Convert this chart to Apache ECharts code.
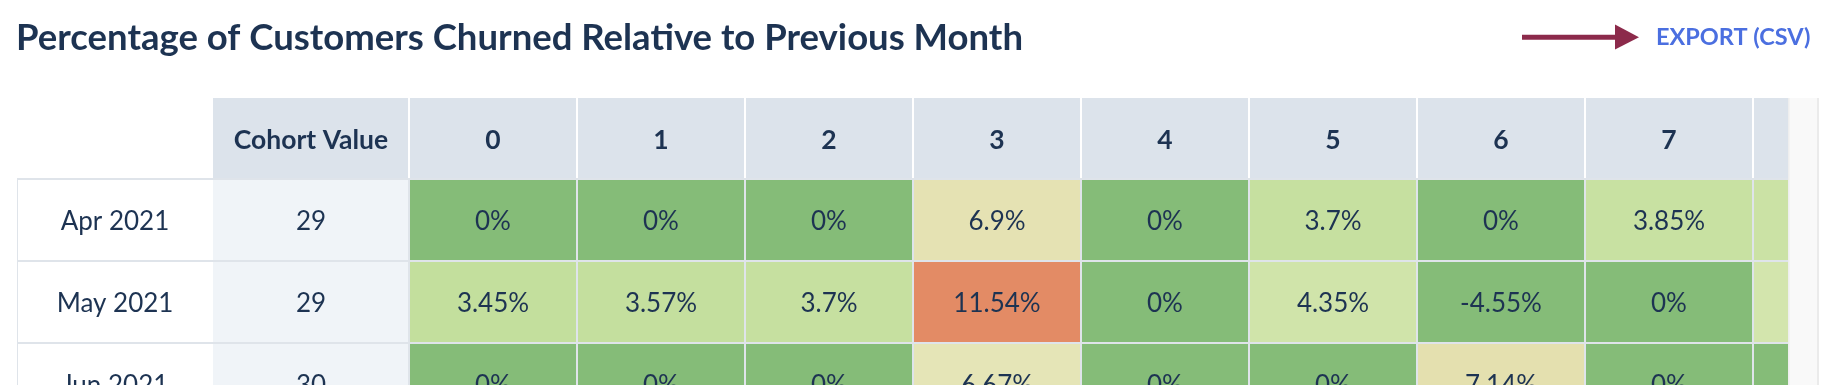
<!DOCTYPE html>
<html>
<head>
<meta charset="utf-8">
<style>
html,body{margin:0;padding:0;background:#fff;}
#chart{width:1834px;height:385px;}
</style>
<script src="https://cdn.jsdelivr.net/npm/echarts@6/dist/echarts.min.js"></script>
</head>
<body>
<div id="chart"></div>
<script>
// ---- data ----
const titleText = 'Percentage of Customers Churned Relative to Previous Month';
const exportText = 'EXPORT (CSV)';
const cohortHeader = 'Cohort Value';
const months = ['Apr 2021', 'May 2021', 'Jun 2021'];
const cohortValues = [29, 29, 30];
const periods = ['0', '1', '2', '3', '4', '5', '6', '7', '8'];
const churnApr2021 = [0, 0, 0, 6.9, 0, 3.7, 0, 3.85, 4.0];
const churnMay2021 = [3.45, 3.57, 3.7, 11.54, 0, 4.35, -4.55, 0, 4.55];
const churnJun2021 = [0, 0, 0, 6.67, 0, 0, 7.14, 0, 0];
const churnRows = [churnApr2021, churnMay2021, churnJun2021];

// ---- style / layout ----
const FONT = 'Lato';
const TEXT = '#1d3352';
const LINE = '#dfe4ea';
const HEAD_BG = '#dce3eb';
const COHORT_BG = '#f0f4f8';
const COL_W = 168, ROW_H = 82;
const GRID_L = 17, GRID_R = 1788, GRID_T = 97, H = 385;
const DATA_L = 409;
const xMin = -0.5 - (DATA_L - GRID_L) / COL_W;
const xMax = xMin + (GRID_R - GRID_L) / COL_W;
const yMin = -1.5;
const yMax = yMin + (H - GRID_T) / ROW_H;
const labelL = xMin;
const cohortL = -0.5 - 196 / COL_W;
const cohortR = -0.5;

const cellData = [];
churnRows.forEach((row, r) => row.forEach((v, c) => cellData.push([c, r, v])));
const rowHeadData = months.map((m, i) => [-1, i]);
const headData = periods.map((p, i) => [i, -1]);

const chart = echarts.init(document.getElementById('chart'));

function txt(text, x, y, size, weight) {
  return {type: 'text', style: {text: text, x: x, y: y, align: 'center', verticalAlign: 'middle',
    fontFamily: FONT, fontSize: size, fontWeight: weight, fill: TEXT}};
}

chart.setOption({
  animation: false,
  title: {text: titleText, left: 11, top: 15,
    textStyle: {fontFamily: FONT, fontWeight: 'bold', fontSize: 36.5, color: TEXT}},
  grid: {left: GRID_L, right: 1834 - GRID_R, top: GRID_T, bottom: 0},
  xAxis: {type: 'value', min: xMin, max: xMax, show: false},
  yAxis: {type: 'value', min: yMin, max: yMax, inverse: true, show: false},
  visualMap: {type: 'continuous', show: false, seriesIndex: 2, dimension: 2, min: -6, max: 12,
    inRange: {color: ['#85bc78', '#85bc78', '#85bc78', '#85bc78', '#85bc78', '#a0cc86', '#bcdc96',
      '#d2e5ac', '#e6ecc4', '#e4dca8', '#e4bb8f', '#e39c74', '#e3835f']}},
  graphic: [
    {type: 'line', z: 100, shape: {x1: 1522, y1: 37.3, x2: 1617, y2: 37.3}, style: {stroke: '#8c2a4b', lineWidth: 5}},
    {type: 'polygon', z: 100, shape: {points: [[1615, 24.5], [1639, 37.3], [1615, 49.5]]}, style: {fill: '#8c2a4b'}},
    {type: 'text', z: 100, style: {text: exportText, x: 1656, y: 37, align: 'left', verticalAlign: 'middle',
      fontFamily: FONT, fontWeight: 'bold', fontSize: 23.5, fill: '#4b6fe0'}},
    {type: 'rect', z: 100, shape: {x: 1788, y: 98, width: 29, height: 290}, style: {fill: '#f9f9f9'}},
    {type: 'rect', z: 100, shape: {x: 1817, y: 98, width: 2, height: 290}, style: {fill: '#ebebeb'}},
    {type: 'rect', z: 100, shape: {x: 1788, y: 98, width: 1.5, height: 290}, style: {fill: '#eeeeee'}}
  ],
  series: [
    { // header row
      type: 'custom', clip: true, data: headData,
      renderItem: function (params, api) {
        const c = api.value(0);
        const children = [];
        const p0 = api.coord([c - 0.5, -1.5]), p1 = api.coord([c + 0.5, -0.5]);
        children.push({type: 'rect', shape: {x: p0[0] + 1, y: p0[1] + 1, width: p1[0] - p0[0] - 2, height: p1[1] - p0[1] - 1},
          style: {fill: HEAD_BG}});
        if (p0[0] + COL_W / 2 < GRID_R) children.push(txt(periods[c], (p0[0] + p1[0]) / 2, (p0[1] + p1[1]) / 2 + 2, 26.5, 'bold'));
        if (c === 0) {
          const q0 = api.coord([cohortL, -1.5]), q1 = api.coord([cohortR, -0.5]);
          children.push({type: 'rect', shape: {x: q0[0], y: q0[1] + 1, width: q1[0] - q0[0] - 1, height: q1[1] - q0[1] - 1},
            style: {fill: HEAD_BG}});
          children.push(txt(cohortHeader, (q0[0] + q1[0]) / 2, (q0[1] + q1[1]) / 2 + 2, 26.5, 'bold'));
        }
        return {type: 'group', children: children};
      }
    },
    { // row labels + cohort values
      type: 'custom', clip: true, data: rowHeadData,
      renderItem: function (params, api) {
        const r = api.value(1);
        const a0 = api.coord([labelL, r - 0.5]), a1 = api.coord([cohortL, r + 0.5]);
        const b0 = api.coord([cohortL, r - 0.5]), b1 = api.coord([cohortR, r + 0.5]);
        const ls = {stroke: LINE, lineWidth: 2};
        return {type: 'group', children: [
          {type: 'rect', shape: {x: a0[0], y: a0[1], width: a1[0] - a0[0], height: a1[1] - a0[1]}, style: {fill: '#ffffff'}},
          {type: 'rect', shape: {x: b0[0], y: b0[1], width: b1[0] - b0[0], height: b1[1] - b0[1]}, style: {fill: COHORT_BG}},
          {type: 'line', shape: {x1: a0[0], y1: a0[1], x2: b1[0], y2: a0[1]}, style: ls},
          {type: 'line', shape: {x1: a0[0], y1: a1[1], x2: b1[0], y2: a1[1]}, style: ls},
          {type: 'line', shape: {x1: a0[0], y1: a0[1], x2: a0[0], y2: a1[1]}, style: ls},
          {type: 'line', shape: {x1: b1[0], y1: a0[1], x2: b1[0], y2: a1[1]}, style: ls},
          txt(months[r], (a0[0] + a1[0]) / 2, (a0[1] + a1[1]) / 2 + 1.5, 26, 'normal'),
          txt(String(cohortValues[r]), (b0[0] + b1[0]) / 2, (b0[1] + b1[1]) / 2 + 1.5, 26, 'normal')
        ]};
      }
    },
    { // churn cells
      type: 'custom', clip: true, data: cellData,
      renderItem: function (params, api) {
        const c = api.value(0), r = api.value(1), v = api.value(2);
        const p0 = api.coord([c - 0.5, r - 0.5]), p1 = api.coord([c + 0.5, r + 0.5]);
        const children = [
          {type: 'rect', shape: {x: p0[0], y: p0[1], width: p1[0] - p0[0], height: p1[1] - p0[1]},
            style: {fill: api.visual('color'), stroke: LINE, lineWidth: 2}}
        ];
        if ((p0[0] + p1[0]) / 2 < GRID_R) children.push(txt(v + '%', (p0[0] + p1[0]) / 2, (p0[1] + p1[1]) / 2 + 1.5, 26, 'normal'));
        return {type: 'group', children: children};
      }
    }
  ]
});
</script>
</body>
</html>
